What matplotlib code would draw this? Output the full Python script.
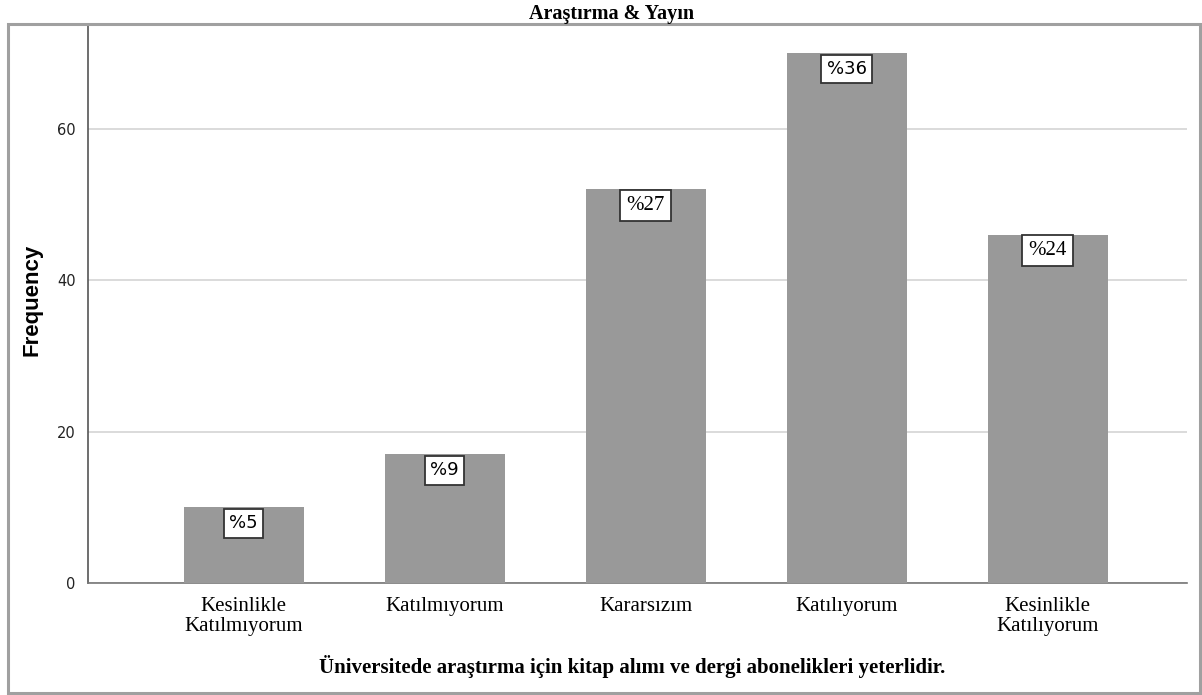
import matplotlib.pyplot as plt
from matplotlib.patches import Rectangle

categories = ['Kesinlikle\nKatılmıyorum', 'Katılmıyorum', 'Kararsızım', 'Katılıyorum', 'Kesinlikle\nKatılıyorum']
counts = [10, 17, 52, 70, 46]
pct_labels = ['%5', '%9', '%27', '%36', '%24']
label_fonts = ['DejaVu Sans', 'DejaVu Sans', 'Liberation Serif', 'DejaVu Sans', 'Liberation Serif']

title = 'Araştırma & Yayın'
xlabel = 'Üniversitede araştırma için kitap alımı ve dergi abonelikleri yeterlidir.'
ylabel = 'Frequency'

W, H = 1202, 695
fig = plt.figure(figsize=(W / 100, H / 100), dpi=100)

# outer frame (like the SPSS chart border)
fig.patches.append(Rectangle((8 / W, 1 - 693 / H), 1192 / W, 669 / H, transform=fig.transFigure,
                             fill=False, edgecolor='#a0a0a0', linewidth=2.2))

ax = fig.add_axes([88 / W, 1 - 583 / H, (1187 - 88) / W, (583 - 25) / H])

x = list(range(len(categories)))
ax.bar(x, counts, width=0.597, color='#999999', zorder=3)

for i, (v, lab) in enumerate(zip(counts, pct_labels)):
    fs = 13 if label_fonts[i] == 'DejaVu Sans' else 15
    ax.annotate(lab, (i, v), xytext=(0, -11.5), textcoords='offset points',
                ha='center', va='center', fontsize=fs, family=label_fonts[i], zorder=5,
                bbox=dict(boxstyle='square,pad=0.3', fc='white', ec='#333333', lw=1.3))

ax.set_xlim(-0.774, 4.694)
ax.set_ylim(0, 73.7)
ax.set_yticks([0, 20, 40, 60])
ax.yaxis.grid(True, color='#d4d4d4', linewidth=1.2, zorder=0)
ax.set_axisbelow(True)

ax.set_xticks(x)
ax.set_xticklabels(categories, family='Liberation Serif', fontsize=15, linespacing=1.1)
ax.tick_params(axis='x', length=0, pad=10)
ax.tick_params(axis='y', length=0, pad=9, labelsize=10.5, labelcolor='#222222')

for s in ['top', 'right']:
    ax.spines[s].set_visible(False)
ax.spines['left'].set_color('#555555')
ax.spines['bottom'].set_color('#777777')
ax.spines['left'].set_linewidth(1.2)
ax.spines['bottom'].set_linewidth(1.2)

fig.text(32 / W, 1 - 300 / H, ylabel, rotation=90, ha='center', va='center',
         fontsize=16, fontweight='bold', family='Liberation Sans')
fig.text(632 / W, 1 - 667 / H, xlabel, ha='center', va='center',
         fontsize=15, fontweight='bold', family='Liberation Serif')
fig.text(612 / W, 1 - 14 / H, title, ha='center', va='center',
         fontsize=14.5, fontweight='bold', family='Liberation Serif')

fig.savefig('out.png', dpi=100)
